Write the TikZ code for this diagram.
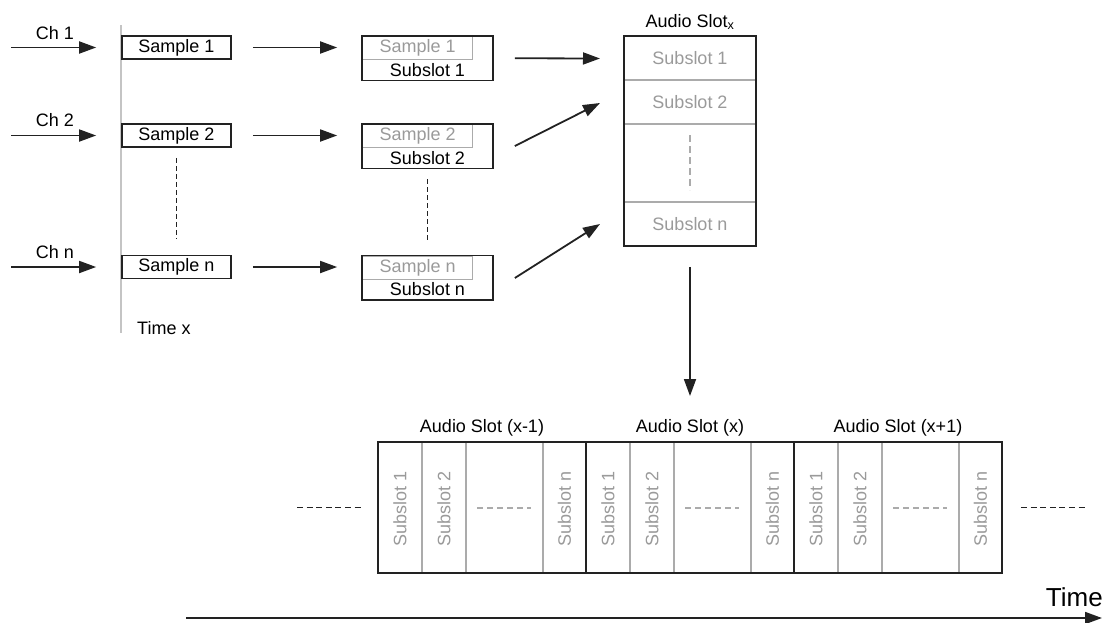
\documentclass[tikz,border=0pt]{standalone}
\usepackage{fontspec}
\setmainfont{Liberation Sans}
\usetikzlibrary{arrows.meta}
\definecolor{ink}{HTML}{222222}
\definecolor{gtext}{HTML}{9A9A9A}
\definecolor{gline}{HTML}{ABABAB}
\begin{document}
\begin{tikzpicture}[x=1pt,y=-1pt,
  font=\fontsize{18}{20}\selectfont,
  arr/.style={draw=ink,line width=1.8pt,-{Triangle[length=17pt,width=12pt]}},
  smp/.style={draw=ink,line width=1.7pt,inner sep=0pt,minimum width=109pt,minimum height=23pt},
  sbox/.style={draw=ink,line width=1.7pt,inner sep=0pt,minimum width=131pt,minimum height=44.5pt},
  gbox/.style={draw=gline,line width=1.4pt,inner sep=0pt,minimum width=110pt,minimum height=23pt,text=gtext,anchor=north west},
  gtxt/.style={text=gtext,inner sep=0pt},
  gsep/.style={draw=gline,line width=1.4pt},
  blackdash/.style={draw=ink,line width=1.7pt,dash pattern=on 5pt off 3pt},
  graydash/.style={draw=gline,line width=1.5pt,dash pattern=on 6pt off 4pt},
  slotbox/.style={draw=ink,line width=1.9pt,inner sep=0pt,minimum width=208pt,minimum height=131pt},
  lab/.style={inner sep=0pt}]
\useasboundingbox (0,0) rectangle (1104,622);

% time axis line for samples
\coordinate (tltop) at (121,25);
\coordinate (tlbot) at (121,333);
\draw[draw=gline!70,line width=1.6pt] (tltop) -- (tlbot);

% sample boxes
\node[smp] (s1) at (176.5,47.5) {Sample 1};
\node[smp] (s2) at (176.5,135.5) {Sample 2};
\node[smp] (sn) at (176.5,267) {Sample n};

% channel inputs
\coordinate (c1) at (11,47.5);
\coordinate (c2) at (11,135.5);
\coordinate (cn) at (11,267);
\draw[arr,shorten >=25pt] (c1) -- (s1.west);
\draw[arr,shorten >=25pt] (c2) -- (s2.west);
\draw[arr,shorten >=25pt] (cn) -- (sn.west);
\node[lab] (ch1) at (55,33) {Ch 1};
\node[lab] (ch2) at (55,120) {Ch 2};
\node[lab] (chn) at (55,252) {Ch n};

\draw[blackdash,shorten <=10pt,shorten >=16pt] (s2.south) -- (sn.north);
\node[lab,anchor=west] (tx) at (137,328) {Time x};

% subslot boxes
\node[gbox] (g1) at (362,36) {Sample 1};
\node[gbox] (g2) at (362,124) {Sample 2};
\node[gbox] (gn) at (362,255.5) {Sample n};
\node[sbox] (b1) at (427.5,58.25) {};
\node[sbox] (b2) at (427.5,146.25) {};
\node[sbox] (bn) at (427.5,277.75) {};
\node[lab] (t1) at (427.5,70.5) {Subslot 1};
\node[lab] (t2) at (427.5,158.5) {Subslot 2};
\node[lab] (tn) at (427.5,289.5) {Subslot n};
\draw[blackdash,shorten <=10pt,shorten >=12pt] (b2.south) -- (bn.north);

\draw[arr,shorten <=21pt,shorten >=24pt] (s1.east) -- (s1.east -| b1.west);
\draw[arr,shorten <=21pt,shorten >=24pt] (s2.east) -- (s2.east -| b2.west);
\draw[arr,shorten <=21pt,shorten >=24pt] (sn.east) -- (sn.east -| bn.west);

% audio slot x
\draw[gsep] (624,80) -- (756,80);
\draw[gsep] (624,124) -- (756,124);
\draw[gsep] (624,202) -- (756,202);
\node[draw=ink,line width=1.9pt,inner sep=0pt,minimum width=132pt,minimum height=210pt] (as) at (690,141) {};
\node[lab] (ast) at (690,22) {Audio Slot\textsubscript{x}};
\node[gtxt] (as1) at (690,58.5) {Subslot 1};
\node[gtxt] (as2) at (690,102.5) {Subslot 2};
\node[gtxt] (asn) at (690,224) {Subslot n};
\coordinate (gd1) at (690,135);
\coordinate (gd2) at (690,190);
\draw[graydash,dash pattern=on 7pt off 4pt] (gd1) -- (gd2);

\coordinate (e1) at (600,58.5);
\coordinate (e2) at (600,103);
\coordinate (en) at (600,224);
\draw[arr] ([xshift=21pt]b1.east) -- (e1);
\draw[arr] ([xshift=21pt]b2.east |- 0,146) -- (e2);
\draw[arr] ([xshift=21pt]bn.east |- 0,278) -- (en);

\coordinate (dend) at (690,396);
\draw[arr,shorten <=20pt] (as.south) -- (dend);

% bottom slots
\foreach \L/\n in {378/A,586/B,794/C}{
  \draw[gsep] (\L+44,442) -- (\L+44,573);
  \draw[gsep] (\L+88,442) -- (\L+88,573);
  \draw[gsep] (\L+165,442) -- (\L+165,573);
  \node[gtxt,rotate=90] (r1\n) at (\L+22,509) {Subslot 1};
  \node[gtxt,rotate=90] (r2\n) at (\L+66,509) {Subslot 2};
  \node[gtxt,rotate=90] (rn\n) at (\L+186.5,509) {Subslot n};
  \coordinate (hd1\n) at (\L+99,508);
  \coordinate (hd2\n) at (\L+153,508);
  \draw[graydash] (hd1\n) -- (hd2\n);
  \node[slotbox] (sl\n) at (\L+104,507.5) {};
}
\node[lab] (tA) at (482,428) {Audio Slot (x-1)};
\node[lab] (tB) at (690,428) {Audio Slot (x)};
\node[lab] (tC) at (898,428) {Audio Slot (x+1)};

\draw[blackdash,dash pattern=on 6pt off 3.6pt] ([xshift=-80pt]slA.west) -- ([xshift=-15pt]slA.west);
\draw[blackdash,dash pattern=on 6pt off 3.6pt] ([xshift=18pt]slC.east) -- ([xshift=83pt]slC.east);

% time axis
\coordinate (ts) at (186,618);
\coordinate (te) at (1102,618);
\draw[arr] (ts) -- (te);
\node[lab,anchor=east,font=\fontsize{26}{28}\selectfont] (time) at (1103,597) {Time};
\end{tikzpicture}
\end{document}
